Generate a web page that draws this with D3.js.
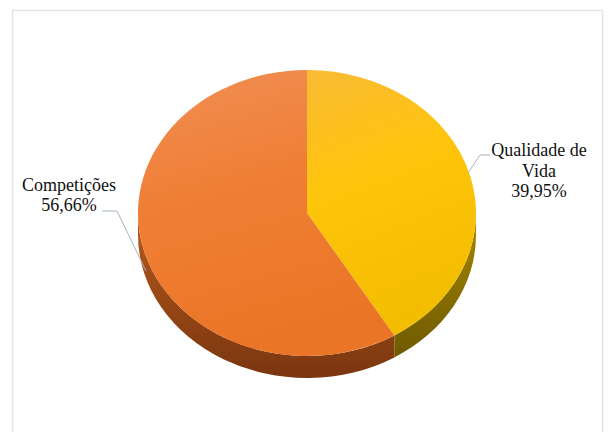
<!DOCTYPE html>
<html>
<head>
<meta charset="utf-8">
<script src="https://cdn.jsdelivr.net/npm/d3@7"></script>
<style>
  html, body { margin: 0; padding: 0; background: #fff; }
  svg { display: block; }
  .lbl { font-family: "Liberation Serif", "Tinos", "Times New Roman", serif; font-size: 18px; }
</style>
</head>
<body>
<script>
// Categories and their shares (percent)
const categories = ["Qualidade de Vida", "Competições"];
const values = [39.95, 56.66];
// Category names as they wrap in the data labels
const nameLines = [["Qualidade de", "Vida"], ["Competições"]];

const W = 608, H = 432;
const svg = d3.select("body").append("svg").attr("width", W).attr("height", H);

// Chart area frame
svg.append("rect")
  .attr("x", 12.5).attr("y", 10.5).attr("width", 590).attr("height", 440)
  .attr("fill", "#fff").attr("stroke", "#e0e3ea").attr("stroke-width", 1.5);

// 3D pie geometry
const cx = 307, cy = 213, rx = 169, ry = 143, depth = 22;

const pie = d3.pie().sort(null).value(d => d)(values);

const defs = svg.append("defs");
const topColors = [
  ["#f9bb35", "#ffc50c", "#f3bd00"],   // Qualidade de Vida
  ["#f08f56", "#f07f36", "#ea7526"]    // Competições
];
const sideColors = [
  ["#a78700", "#6e5a00"],
  ["#b85a1c", "#7a3610"]
];
topColors.forEach((c, i) => {
  const g = defs.append("linearGradient").attr("id", "top" + i)
    .attr("x1", 0).attr("y1", 0).attr("x2", 0.25).attr("y2", 1);
  g.append("stop").attr("offset", "0%").attr("stop-color", c[0]);
  g.append("stop").attr("offset", "45%").attr("stop-color", c[1]);
  g.append("stop").attr("offset", "100%").attr("stop-color", c[2]);
});
sideColors.forEach((c, i) => {
  const g = defs.append("linearGradient").attr("id", "side" + i)
    .attr("x1", 0).attr("y1", 0).attr("x2", 0).attr("y2", 1);
  g.append("stop").attr("offset", "0%").attr("stop-color", c[0]);
  g.append("stop").attr("offset", "100%").attr("stop-color", c[1]);
});

// Unit-circle group stretched into the ellipse
const unit = svg.append("g")
  .attr("transform", `translate(${cx},${cy}) scale(${rx},${ry})`);

// Outer walls: only the front half (pi/2 .. 3pi/2) is visible
const h = depth / ry;
pie.forEach((d, i) => {
  const a0 = Math.max(d.startAngle, Math.PI / 2);
  const a1 = Math.min(d.endAngle, 3 * Math.PI / 2);
  if (a1 <= a0) return;
  const p = d3.path();
  const s0 = a0 - Math.PI / 2, s1 = a1 - Math.PI / 2;
  p.moveTo(Math.cos(s0), Math.sin(s0));
  p.arc(0, 0, 1, s0, s1, false);
  p.lineTo(Math.cos(s1), Math.sin(s1) + h);
  p.arc(0, h, 1, s1, s0, true);
  p.closePath();
  unit.append("path").attr("d", p.toString()).attr("fill", `url(#side${i})`);
});

// Top faces
const arc = d3.arc().innerRadius(0).outerRadius(1);
unit.selectAll("path.top")
  .data(pie)
  .join("path")
  .attr("class", "top")
  .attr("d", arc)
  .attr("fill", (d, i) => `url(#top${i})`);

// Data labels
const fmt = v => d3.format(".2f")(v).replace(".", ",") + "%";
const labels = [
  { x: 539, y: 156, lh: 20.5, leader: [[490, 155], [480, 155], [468, 173]] },
  { x: 69, y: 191, lh: 20, leader: [[102, 211], [117, 211], [146, 271]] }
];

labels.forEach((L, i) => {
  svg.append("path")
    .attr("d", d3.line()(L.leader))
    .attr("fill", "none").attr("stroke", "#a6b4c6").attr("stroke-width", 1);
  const t = svg.append("text")
    .attr("class", "lbl")
    .attr("x", L.x).attr("y", L.y)
    .attr("text-anchor", "middle")
    .attr("fill", "#111");
  const lines = nameLines[i].concat([fmt(values[i])]);
  lines.forEach((s, k) => {
    t.append("tspan").attr("x", L.x).attr("dy", k === 0 ? 0 : L.lh).text(s);
  });
});
</script>
</body>
</html>
